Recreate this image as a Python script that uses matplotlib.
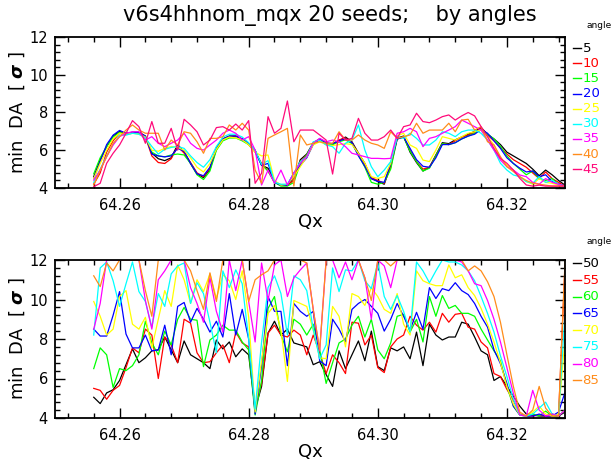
import numpy as np
import matplotlib
matplotlib.use("Agg")
import matplotlib.pyplot as plt
from matplotlib.ticker import MultipleLocator, FixedLocator
from matplotlib.lines import Line2D

qx = np.round(np.arange(64.256, 64.3295, 0.001), 3)

# angles 5..45 (top panel)
da5 = [4.6, 5.5, 6.2, 6.75, 7.0, 6.85, 6.95, 6.95, 6.75, 5.85, 5.55, 5.45, 5.6, 6.3, 5.9, 5.3, 4.75, 4.55, 5.0, 6.1,
       6.6, 6.75, 6.75, 6.6, 6.35, 6.0, 5.2, 5.05, 4.35, 4.15, 4.15,
       4.5, 5.5, 5.8, 6.4, 6.6, 6.35, 6.35, 6.5, 6.7, 6.45, 5.85, 5.3, 4.5, 4.35, 4.2, 5.2, 6.65, 6.75, 5.9, 5.35,
       4.9, 5.1, 5.75, 6.4, 6.35, 6.55, 6.7, 6.85, 7.0, 7.2, 6.85, 6.6, 6.3, 5.9, 5.7, 5.5, 5.3, 5.0, 4.65, 4.95,
       4.7, 4.4, 4.15]
da10 = [4.2, 4.8, 5.9, 6.5, 6.9, 6.9, 6.95, 6.9, 6.7, 5.7, 5.35, 5.3, 5.55, 6.2, 5.85, 5.35, 4.8, 4.6, 5.05, 6.05,
        6.55, 6.7, 6.75, 6.6, 6.3, 5.9, 5.3, 4.9, 4.3, 4.15, 4.15,
        4.4, 5.4, 5.75, 6.35, 6.55, 6.3, 6.3, 6.55, 6.65, 6.4, 5.8, 5.2, 4.55, 4.4, 4.25, 5.1, 6.6, 6.7, 6.0, 5.4,
        5.0, 5.1, 5.7, 6.35, 6.3, 6.5, 6.7, 6.8, 6.95, 7.15, 6.8, 6.5, 6.15, 5.8, 5.5, 5.3, 5.1, 4.8, 4.5, 4.85,
        4.5, 4.3, 4.1]
da15 = [4.75, 5.6, 6.2, 6.7, 6.95, 6.85, 6.9, 6.9, 6.7, 5.9, 5.7, 5.65, 5.75, 5.8, 5.75, 5.3, 4.7, 4.45, 4.9, 6.0,
        6.5, 6.65, 6.65, 6.5, 6.3, 5.95, 5.25, 4.9, 4.3, 4.1, 4.1,
        4.3, 5.3, 5.75, 6.35, 6.55, 6.35, 6.3, 6.45, 6.55, 6.35, 5.75, 5.1, 4.3, 4.2, 4.3, 5.0, 6.6, 6.7, 5.95, 5.4,
        4.9, 5.05, 5.7, 6.35, 6.3, 6.4, 6.6, 6.75, 6.9, 7.1, 6.85, 6.6, 6.2, 5.7, 5.3, 5.0, 4.7, 4.9, 4.5, 4.4,
        4.5, 4.2, 4.1]
da20 = [4.5, 5.4, 6.3, 6.8, 7.05, 6.9, 6.95, 6.95, 6.75, 5.8, 5.7, 5.65, 5.7, 6.1, 5.95, 5.3, 4.75, 4.65, 5.1, 6.15,
        6.6, 6.75, 6.75, 6.6, 6.35, 5.95, 5.2, 5.3, 4.3, 4.15, 4.15,
        4.8, 5.2, 5.6, 6.3, 6.6, 6.4, 6.35, 6.5, 6.6, 6.4, 5.7, 5.15, 4.5, 4.35, 4.3, 5.3, 6.6, 6.7, 6.1, 5.5,
        5.15, 5.1, 5.6, 6.3, 6.3, 6.4, 6.6, 6.75, 6.85, 7.1, 6.9, 6.5, 6.1, 5.6, 5.3, 5.05, 4.85, 4.9, 4.6, 4.7,
        4.35, 4.2, 4.1]
da25 = [4.5, 5.3, 6.0, 6.6, 6.9, 6.85, 6.9, 6.85, 6.7, 6.0, 5.95, 6.1, 6.2, 6.15, 6.0, 5.6, 5.1, 4.85, 5.3, 6.05,
        6.55, 6.7, 6.65, 6.55, 6.3, 5.9, 5.7, 5.75, 4.4, 4.15, 4.2,
        4.6, 5.13, 5.66, 6.28, 6.45, 6.3, 6.25, 6.3, 6.35, 6.3, 5.84, 5.31, 4.6, 4.51, 4.6, 5.31, 6.76, 6.9, 6.28, 6.1,
        5.48, 5.4, 6.01, 6.72, 6.63, 6.54, 6.72, 6.9, 6.98, 7.07, 6.72, 6.28, 5.57, 5.22, 4.95, 4.6, 4.34,
        4.2, 4.5, 4.3, 4.25, 4.15, 4.1]
da30 = [4.3, 5.0, 5.7, 6.3, 6.8, 6.8, 6.9, 6.85, 6.65, 6.2, 5.8, 6.05, 6.15, 6.2, 6.1, 5.7, 5.35, 5.1, 5.5, 6.2,
        6.7, 6.85, 6.85, 6.7, 6.4, 6.0, 5.25, 5.45, 4.3, 4.2, 4.2,
        4.78, 5.4, 5.66, 6.45, 6.54, 6.28, 6.19, 5.84, 6.37, 6.54, 7.34, 6.01, 5.13, 4.6, 4.95, 5.4, 6.72, 6.63, 6.9,
        6.63, 6.28, 6.28, 6.54, 6.98, 6.9, 6.72, 6.98, 7.07, 7.07, 6.9, 6.54, 6.01, 5.31, 4.95, 4.69, 4.6, 4.34,
        4.25, 4.6, 4.3, 4.4, 4.2, 4.1]
da35 = [4.42, 4.95, 5.66, 6.28, 6.72, 6.9, 6.98, 6.98, 6.54, 6.72, 6.37, 6.19, 6.37, 6.54, 6.9, 6.37, 6.1, 6.01,
        6.28, 6.54, 6.9, 7.07, 6.9, 6.54, 6.72, 6.01, 4.16, 4.95, 4.25, 4.95, 4.16,
        4.8, 5.31, 5.66, 6.37, 6.63, 6.45, 6.54, 6.45, 6.19, 5.84, 5.75, 5.66, 5.57, 5.57, 5.55, 5.57, 6.9, 6.98,
        7.16, 6.98, 6.19, 6.63, 6.72, 6.9, 7.07, 7.25, 7.6, 7.43, 7.25, 7.07, 6.54, 6.01, 5.48, 5.13, 4.95, 4.69,
        4.6, 4.3, 4.2, 4.5, 4.3, 4.2, 4.1]
da40 = [4.16, 4.95, 5.66, 6.37, 6.72, 7.07, 7.34, 7.07, 6.9, 6.9, 6.9, 6.01, 6.54, 6.28, 6.98, 6.9, 6.45, 5.84,
        6.63, 6.63, 6.72, 7.34, 7.07, 7.43, 7.07, 4.95, 4.25, 6.63, 6.81, 6.98, 7.16,
        4.1, 6.81, 6.28, 6.37, 6.45, 6.37, 6.37, 6.98, 6.54, 6.54, 6.81, 6.54, 6.37, 6.28, 6.1, 6.98, 6.63, 6.72,
        6.81, 7.43, 6.9, 7.07, 7.07, 7.07, 7.43, 6.98, 7.6, 7.64, 7.07, 7.25, 6.45, 6.28, 5.66, 5.13, 4.87, 4.6,
        4.4, 4.25, 4.2, 4.15, 4.1, 4.1, 4.1]
da45 = [4.07, 4.25, 5.31, 5.84, 6.28, 6.9, 7.57, 7.25, 6.37, 7.52, 6.37, 6.37, 7.16, 6.01, 7.64, 7.34, 6.98, 6.28,
        6.54, 7.2, 7.25, 7.07, 7.39, 7.07, 7.57, 4.25, 4.78, 7.78, 6.9, 7.16, 8.61,
        6.45, 7.07, 7.07, 7.07, 6.81, 6.54, 4.74, 6.9, 6.54, 6.63, 7.69, 6.9, 6.54, 6.54, 6.72, 7.07, 6.63, 7.25,
        7.34, 7.96, 7.52, 7.46, 7.6, 7.78, 7.87, 7.6, 7.82, 8.0, 7.82, 7.25, 6.72, 6.1, 5.57, 5.31, 4.95, 4.51,
        4.16, 4.1, 4.15, 4.1, 4.1, 4.1, 4.1]

# angles 50..85 (bottom panel)
da50 = [5.05, 4.73, 5.27, 5.43, 5.9, 6.7, 7.5, 6.8, 7.05, 7.4, 7.45, 8.1, 7.45, 6.8, 7.9, 7.2, 7.0, 6.8, 6.5, 7.95,
        7.5, 7.85, 7.1, 7.5, 7.2, 4.45, 5.6, 8.3, 8.9, 8.2, 8.5,
        7.8, 7.7, 7.6, 6.7, 6.85, 6.2, 5.6, 7.4, 6.5, 7.2, 7.9, 6.9, 8.4, 6.6, 6.4, 7.55, 7.4, 7.6, 7.0, 8.35,
        6.65, 8.75, 8.2, 7.95, 8.1, 8.1, 8.85, 8.75, 8.1, 7.4, 7.2, 5.9, 6.1, 5.6, 5.1, 4.6,
        4.2, 4.15, 4.1, 4.1, 4.2, 4.1, 4.3]
da55 = [5.5, 5.4, 4.95, 5.4, 5.65, 6.55, 7.55, 7.3, 8.5, 8.2, 6.0, 8.1, 7.7, 6.8, 9.0, 8.8, 7.3, 6.8, 6.85, 7.3,
        7.7, 6.8, 8.35, 7.8, 7.6, 4.5, 5.75, 8.3, 8.7, 8.2, 8.1,
        8.45, 8.2, 7.2, 8.2, 7.3, 6.25, 7.2, 6.8, 6.25, 8.85, 8.8, 7.7, 8.2, 6.55, 6.3, 7.6, 8.0, 8.2, 9.15, 8.7,
        8.45, 8.85, 8.35, 9.3, 8.85, 9.25, 9.3, 8.6, 8.5, 7.85, 7.55, 6.25, 6.1, 5.45, 4.9, 4.2,
        4.1, 4.1, 4.15, 4.1, 4.1, 4.1, 11.7]
da60 = [6.5, 7.55, 7.2, 5.55, 6.5, 6.4, 6.65, 7.2, 8.9, 7.8, 7.2, 8.4, 7.7, 9.0, 9.6, 9.0, 8.95, 6.6, 7.95, 8.2,
        8.7, 8.45, 8.45, 7.85, 7.45, 4.15, 5.9, 9.55, 10.15, 8.2, 7.35,
        9.0, 8.75, 8.2, 8.75, 7.45, 5.75, 6.8, 7.8, 8.0, 8.7, 9.15, 8.1, 9.0, 7.45, 7.0, 7.8, 9.15, 9.25, 8.35, 9.0,
        7.85, 10.15, 9.15, 10.2, 9.55, 9.7, 9.3, 9.3, 9.15, 8.5, 7.95, 7.4, 6.9, 5.6, 4.6, 4.15,
        4.1, 4.2, 4.1, 4.35, 4.1, 4.1, 4.4]
da65 = [8.5, 8.15, 8.15, 9.2, 10.4, 8.25, 7.55, 7.55, 8.2, 7.4, 7.45, 8.7, 7.2, 9.65, 9.85, 8.85, 9.55, 9.0, 8.35,
        8.9, 8.1, 10.3, 8.2, 9.5, 8.0, 4.2, 6.65, 10.15, 9.4, 9.4, 6.65,
        9.8, 9.4, 9.15, 9.4, 6.9, 6.65, 9.0, 8.5, 7.85, 9.5, 9.8, 10.0, 9.65, 9.3, 8.4, 9.0, 9.8, 9.15, 8.45, 9.35,
        8.5, 10.6, 10.05, 10.55, 10.45, 10.85, 10.45, 10.25, 9.8, 9.15, 8.6, 7.45, 6.75, 5.75, 4.6, 4.15,
        4.1, 4.1, 4.2, 4.1, 4.1, 4.3, 5.3]
da70 = [9.9, 9.15, 8.2, 8.5, 10.15, 10.45, 8.75, 8.5, 9.1, 7.55, 9.0, 10.45, 9.65, 11.75, 11.0, 9.8, 11.0, 10.4,
        11.3, 10.05, 11.25, 10.95, 10.0, 11.45, 9.1, 4.3, 6.9, 9.3, 9.7, 8.45, 5.85,
        9.95, 9.8, 9.65, 8.45, 7.05, 7.0, 9.65, 9.15, 7.6, 10.3, 10.15, 9.7, 10.6, 10.15, 9.5, 9.3, 10.3, 8.75, 8.2,
        11.45, 10.95, 10.8, 10.7, 10.7, 11.75, 11.1, 11.25, 10.6, 10.2, 9.55, 8.75, 7.85, 6.8, 5.6, 4.7, 4.15,
        4.1, 4.3, 4.6, 4.2, 4.1, 4.2, 8.0]
da75 = [8.2, 11.6, 11.9, 10.95, 9.65, 10.8, 11.9, 10.4, 9.9, 8.6, 10.3, 9.65, 11.3, 11.7, 11.85, 9.8, 10.85, 10.3,
        8.85, 7.3, 11.45, 10.6, 11.5, 10.8, 8.0, 4.45, 7.85, 10.6, 11.2, 10.3, 8.2,
        11.2, 11.0, 10.45, 8.5, 7.0, 7.7, 11.6, 10.4, 11.5, 11.45, 12.0, 10.95, 10.55, 11.85, 10.15, 9.5, 10.2, 9.4,
        8.35, 11.9, 11.45, 10.85, 11.45, 12.0, 11.9, 11.9, 11.75, 11.45, 10.95, 10.15, 9.3, 8.35, 7.15, 6.1, 4.95,
        4.15, 4.1, 4.2, 4.5, 4.8, 4.2, 4.1, 9.3]
da80 = [8.5, 9.8, 12.0, 12.0, 12.0, 12.0, 12.0, 12.0, 9.95, 8.5, 11.0, 11.45, 12.0, 12.0, 12.0, 10.6, 9.8, 8.85,
        11.1, 9.4, 8.35, 12.0, 10.45, 12.0, 9.9, 7.85, 11.85, 9.95, 11.75, 12.0, 10.15,
        11.1, 11.5, 11.85, 9.5, 7.4, 12.0, 12.0, 11.1, 11.9, 11.0, 12.0, 11.1, 9.0, 12.0, 11.7, 10.6, 12.0, 12.0,
        12.0, 12.0, 12.0, 12.0, 12.0, 12.0, 12.0, 12.0, 11.9, 11.45, 10.8, 10.7, 9.95, 9.0, 7.85, 6.55, 5.25, 4.15,
        4.1, 5.4, 4.4, 4.1, 4.2, 4.1, 4.4]
da85 = [11.2, 10.65, 11.85, 11.45, 12.0, 12.0, 12.0, 12.0, 10.45, 9.15, 12.0, 12.0, 12.0, 12.0, 12.0, 11.45, 10.45,
        9.5, 11.35, 9.9, 12.0, 12.0, 12.0, 12.0, 9.9, 11.0, 11.25, 11.45, 12.0, 12.0, 12.0,
        12.0, 12.0, 11.85, 9.5, 7.45, 12.0, 12.0, 12.0, 12.0, 12.0, 12.0, 11.1, 9.95, 12.0, 12.0, 11.7, 12.0, 12.0,
        12.0, 12.0, 12.0, 12.0, 12.0, 12.0, 12.0, 12.0, 12.0, 11.45, 11.7, 11.45, 10.9, 10.15, 8.85, 7.2, 5.6, 4.3,
        4.1, 4.4, 5.6, 4.5, 4.1, 4.1, 11.9]

top_angles = [5, 10, 15, 20, 25, 30, 35, 40, 45]
top_data = [da5, da10, da15, da20, da25, da30, da35, da40, da45]
top_colors = ['black', '#ff0000', '#00ff00', '#0000ff', '#ffff00', '#00ffff', '#ff00ff', '#ff8c1a', '#ff0a7a']

bot_angles = [50, 55, 60, 65, 70, 75, 80, 85]
bot_data = [da50, da55, da60, da65, da70, da75, da80, da85]
bot_colors = ['black', '#ff0000', '#00ff00', '#0000ff', '#ffff00', '#00ffff', '#ff00ff', '#ff8c1a']

W, H = 612, 465
fig = plt.figure(figsize=(W / 100, H / 100), dpi=100)


def px(x0, y0, x1, y1):
    return [x0 / W, 1 - y1 / H, (x1 - x0) / W, (y1 - y0) / H]


def style(ax):
    ax.set_xlim(64.25, 64.329)
    ax.set_ylim(4, 12)
    ax.xaxis.set_major_locator(FixedLocator([64.26, 64.28, 64.30, 64.32]))
    ax.xaxis.set_minor_locator(MultipleLocator(0.004))
    ax.yaxis.set_major_locator(MultipleLocator(2))
    ax.yaxis.set_minor_locator(MultipleLocator(0.4))
    ax.set_xticklabels(['64.26', '64.28', '64.30', '64.32'])
    ax.tick_params(which='both', direction='in', top=True, right=True, width=1.0, labelsize=10.5)
    ax.tick_params(which='major', length=7)
    ax.tick_params(which='minor', length=3.5)
    ax.tick_params(axis='x', pad=7)
    ax.tick_params(axis='y', pad=5)
    for s in ax.spines.values():
        s.set_linewidth(1.3)
    ax.set_xlabel('Qx', fontsize=13)
    ax.set_ylabel(r'min  DA  [ $\boldsymbol{\sigma}$ ]', fontsize=13)
    ax.yaxis.set_label_coords(-0.055, 0.5)


ax1 = fig.add_axes(px(55, 37, 565, 188))
for d, c in zip(top_data, top_colors):
    ax1.plot(qx, d, color=c, lw=0.9)
style(ax1)
ax1.xaxis.set_label_coords(0.5, -0.165)

ax2 = fig.add_axes(px(55, 260, 565, 418))
for d, c in zip(bot_data, bot_colors):
    ax2.plot(qx, d, color=c, lw=0.9)
style(ax2)
ax2.xaxis.set_label_coords(0.5, -0.16)

fig.text(330 / W, 1 - 16 / H, 'v6s4hhnom_mqx 20 seeds;    by angles', ha='center', va='center', fontsize=15)


def legend(angles, colors, y0, dy, ytitle):
    fig.text(599 / W, 1 - ytitle / H, 'angle', ha='center', va='center', fontsize=6.5)
    for k, (a, c) in enumerate(zip(angles, colors)):
        y = 1 - (y0 + dy * k) / H
        fig.add_artist(Line2D([573 / W, 581 / W], [y, y], color=c, lw=1.0))
        fig.text(582.5 / W, y, str(a), color=c, ha='left', va='center', fontsize=9.5)


legend(top_angles, top_colors, 48.3, 15.1, 26)
legend(bot_angles, bot_colors, 263.3, 16.7, 241)

fig.savefig('out.png', dpi=100)
